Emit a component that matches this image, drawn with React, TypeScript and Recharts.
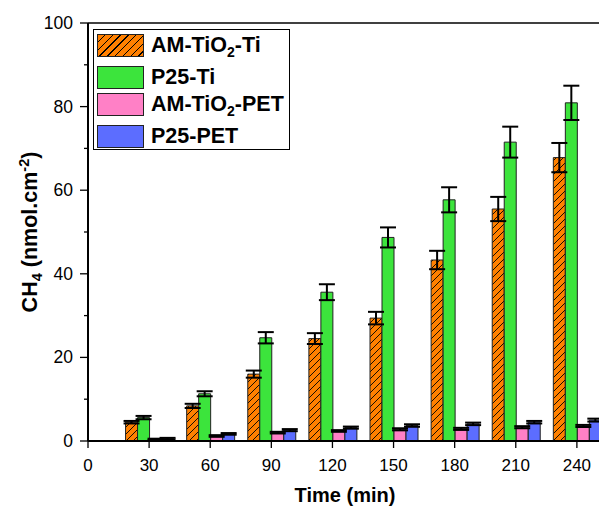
import React from 'react';
import { BarChart, Bar, XAxis, YAxis, ErrorBar, ReferenceLine } from 'recharts';

const times = [30, 60, 90, 120, 150, 180, 210, 240];
const amTiO2Ti = [4.5, 8.4, 16.0, 24.5, 29.4, 43.3, 55.5, 67.8];
const amTiO2TiErr = [0.3, 0.5, 0.85, 1.3, 1.5, 2.2, 2.9, 3.5];
const p25Ti = [5.6, 11.3, 24.7, 35.6, 48.7, 57.7, 71.5, 80.9];
const p25TiErr = [0.4, 0.6, 1.35, 1.9, 2.4, 3.0, 3.7, 4.1];
const amTiO2Pet = [0.4, 1.2, 2.0, 2.4, 2.8, 2.9, 3.3, 3.6];
const amTiO2PetErr = [0.15, 0.2, 0.2, 0.2, 0.25, 0.25, 0.25, 0.25];
const p25Pet = [0.55, 1.7, 2.6, 3.2, 3.7, 4.1, 4.5, 5.0];
const p25PetErr = [0.2, 0.2, 0.25, 0.25, 0.3, 0.3, 0.3, 0.35];

const xTicks = [0, 30, 60, 90, 120, 150, 180, 210, 240];
const yTicks = [0, 10, 20, 30, 40, 50, 60, 70, 80, 90, 100];

const FONT = '"Liberation Sans", Arial, sans-serif';
const ORANGE = '#ff8000';
const GREEN = '#3ce43c';
const PINK = '#ff80c6';
const BLUE = '#5c6dff';

const data = times.map((t, i) => ({
  t,
  amTi: amTiO2Ti[i],
  amTiErr: amTiO2TiErr[i],
  p25Ti: p25Ti[i],
  p25TiErr: p25TiErr[i],
  amPet: amTiO2Pet[i],
  amPetErr: amTiO2PetErr[i],
  p25Pet: p25Pet[i],
  p25PetErr: p25PetErr[i],
}));

// x here is the axis line itself (tickSize/tickMargin are 0)
const YTick = (props: any) => {
  const { x, y, payload } = props;
  const major = payload.value % 20 === 0;
  return (
    <g>
      <line x1={x} x2={x - (major ? 8 : 4)} y1={y} y2={y} stroke="#000" strokeWidth={1.3} />
      {major && (
        <text x={x - 15} y={y + 6} textAnchor="end" fontSize={17.5} fontFamily={FONT} fill="#000">
          {payload.value}
        </text>
      )}
    </g>
  );
};

const XTick = (props: any) => {
  const { x, y, payload } = props;
  return (
    <g>
      <line x1={x} x2={x} y1={y} y2={y + 7} stroke="#000" strokeWidth={1.3} />
      <text x={x} y={y + 30} textAnchor="middle" fontSize={17} fontFamily={FONT} fill="#000">
        {payload.value}
      </text>
    </g>
  );
};

const legendItems = [
  { key: 'amTi', name: 'AM-TiO', sub: '2', rest: '-Ti', bg: `repeating-linear-gradient(135deg, ${ORANGE} 0px, ${ORANGE} 4.5px, #000 4.5px, #000 5.5px)`, mt: 4 },
  { key: 'p25Ti', name: 'P25-Ti', sub: '', rest: '', bg: GREEN, mt: 9 },
  { key: 'amPet', name: 'AM-TiO', sub: '2', rest: '-PET', bg: PINK, mt: 4 },
  { key: 'p25Pet', name: 'P25-PET', sub: '', rest: '', bg: BLUE, mt: 9 },
];

// legend box drawn over the plot, as in the original figure
const LegendBox = () => (
  <div
    style={{
      position: 'absolute',
      left: 93,
      top: 29,
      border: '1px solid #000',
      width: 197,
      height: 121,
      boxSizing: 'border-box',
      background: '#fff',
    }}
  >
    {legendItems.map((it) => (
      <div key={it.key} style={{ display: 'flex', alignItems: 'center', marginTop: it.mt, height: 23 }}>
        <div style={{ width: 45, height: 21, marginLeft: 3, border: '1.5px solid #222', background: it.bg }} />
        <span
          style={{
            marginLeft: 7,
            fontFamily: FONT,
            fontWeight: 'bold',
            fontSize: 21.5,
            lineHeight: '23px',
            color: '#000',
            whiteSpace: 'nowrap',
          }}
        >
          {it.name}
          {it.sub && <sub style={{ fontSize: 14, lineHeight: 0 }}>{it.sub}</sub>}
          {it.rest}
        </span>
      </div>
    ))}
  </div>
);

export default function App() {
  return (
    <div style={{ position: 'absolute', left: 0, top: 0, width: 599, height: 507, overflow: 'hidden', background: '#fff' }}>
      <BarChart
        width={640}
        height={507}
        data={data}
        margin={{ top: 23, right: 2, left: 10, bottom: 36 }}
        barGap={0}
        barSize={12}
      >
        <defs>
          <pattern id="hatch" patternUnits="userSpaceOnUse" width="7" height="7">
            <rect width="7" height="7" fill={ORANGE} />
            <path d="M0,7 L7,0 M-1,1 L1,-1 M6,8 L8,6" stroke="#000" strokeWidth={0.9} />
          </pattern>
        </defs>
        <XAxis
          dataKey="t"
          type="number"
          domain={[0, 270]}
          ticks={xTicks}
          interval={0}
          height={30}
          tickSize={0}
          tickMargin={0}
          axisLine={{ stroke: '#000', strokeWidth: 2 }}
          tickLine={false}
          tick={<XTick />}
          label={{
            content: (p: any) => {
              const vb = p.viewBox;
              return (
                <text x={345} y={vb.y + 61} textAnchor="middle" fontSize={20} fontWeight="bold" fontFamily={FONT} fill="#000">
                  Time (min)
                </text>
              );
            },
          }}
        />
        <YAxis
          type="number"
          domain={[0, 100]}
          ticks={yTicks}
          interval={0}
          width={78}
          tickSize={0}
          tickMargin={0}
          axisLine={{ stroke: '#000', strokeWidth: 2 }}
          tickLine={false}
          tick={<YTick />}
          label={{
            content: (p: any) => {
              const vb = p.viewBox;
              const cy = vb.y + vb.height / 2;
              return (
                <text
                  transform={`translate(37, ${cy}) rotate(-90)`}
                  textAnchor="middle"
                  fontSize={21.5}
                  fontWeight="bold"
                  fontFamily={FONT}
                  fill="#000"
                >
                  CH
                  <tspan fontSize={14.5} dy={5}>4</tspan>
                  <tspan dy={-5}> (nmol.cm</tspan>
                  <tspan fontSize={14.5} dy={-8}>-2</tspan>
                  <tspan dy={8}>)</tspan>
                </text>
              );
            },
          }}
        />
        <ReferenceLine y={100} stroke="#000" strokeWidth={1.3} />
        <Bar dataKey="amTi" name="AM-TiO2-Ti" fill="url(#hatch)" stroke="#222" strokeWidth={1} isAnimationActive={false}>
          <ErrorBar dataKey="amTiErr" width={8} strokeWidth={2} stroke="#000" direction="y" />
        </Bar>
        <Bar dataKey="p25Ti" name="P25-Ti" fill={GREEN} stroke="#222" strokeWidth={1} isAnimationActive={false}>
          <ErrorBar dataKey="p25TiErr" width={8} strokeWidth={2} stroke="#000" direction="y" />
        </Bar>
        <Bar dataKey="amPet" name="AM-TiO2-PET" fill={PINK} stroke="#222" strokeWidth={1} isAnimationActive={false}>
          <ErrorBar dataKey="amPetErr" width={8} strokeWidth={2} stroke="#000" direction="y" />
        </Bar>
        <Bar dataKey="p25Pet" name="P25-PET" fill={BLUE} stroke="#222" strokeWidth={1} isAnimationActive={false}>
          <ErrorBar dataKey="p25PetErr" width={8} strokeWidth={2} stroke="#000" direction="y" />
        </Bar>
      </BarChart>
      <LegendBox />
    </div>
  );
}
